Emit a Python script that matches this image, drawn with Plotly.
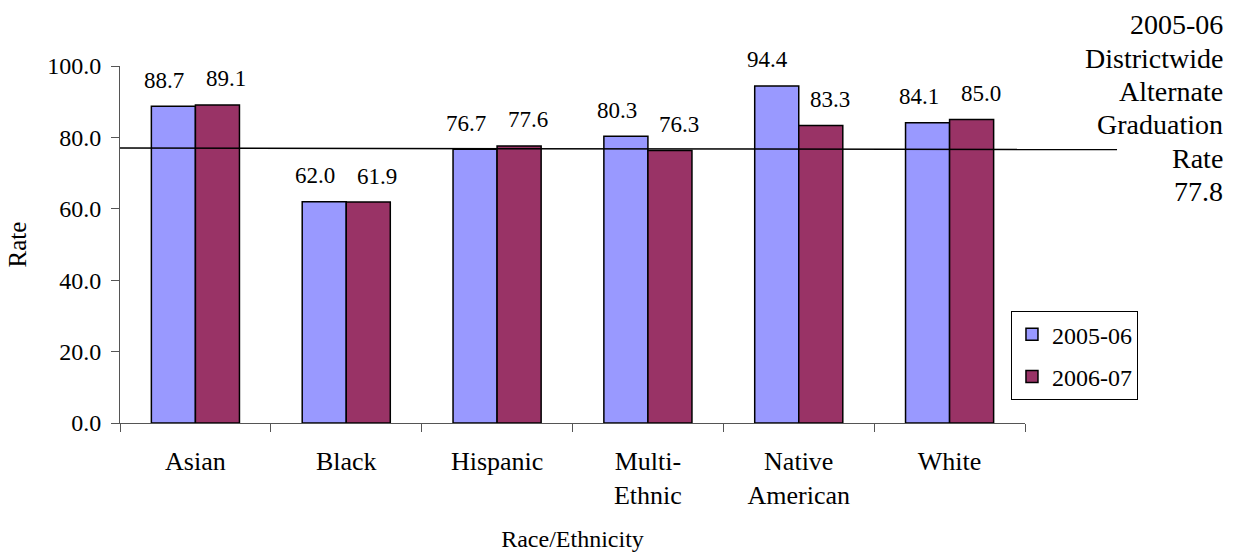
import plotly.graph_objects as go

categories = ["Asian", "Black", "Hispanic", "Multi-Ethnic", "Native American", "White"]
tick_labels = ["Asian", "Black", "Hispanic", "Multi-<br>Ethnic", "Native<br>American", "White"]
rate_2005_06 = [88.7, 62.0, 76.7, 80.3, 94.4, 84.1]
rate_2006_07 = [89.1, 61.9, 77.6, 76.3, 83.3, 85.0]
series_names = ["2005-06", "2006-07"]
district_rate = 77.8
district_line = [77.0, 76.6]  # drawn position of the reference line (start, end)
note_lines = ["2005-06", "Districtwide", "Alternate", "Graduation", "Rate", f"{district_rate}"]
y_ticks = [0, 20, 40, 60, 80, 100]

FONT = "Liberation Serif, Times New Roman, DejaVu Serif, serif"
colors = ["#9999FF", "#993366"]

W, H = 1237, 554
M_L, M_R, M_T, M_B = 120, 212, 66, 131
plot_h = H - M_T - M_B

fig = go.Figure()
for name, vals, col in zip(series_names, [rate_2005_06, rate_2006_07], colors):
    fig.add_trace(go.Bar(
        x=categories, y=vals, name=name, legendgroup=name,
        marker=dict(color=col, line=dict(color="black", width=1.5)),
    ))

annotations = []
for vals, xs in [(rate_2005_06, -31), (rate_2006_07, 31)]:
    for c, v in zip(categories, vals):
        annotations.append(dict(
            x=c, y=v, xref="x", yref="y", text=f"{v:.1f}", showarrow=False,
            xshift=xs, yshift=26, yanchor="middle", xanchor="center",
            font=dict(family=FONT, size=23, color="black"),
        ))

# side note, one annotation per line (line centres in px from the top)
for i, line in enumerate(note_lines):
    py = 25 + 33.3 * i
    annotations.append(dict(
        xref="paper", yref="paper", x=(1225 - M_L) / (W - M_L - M_R),
        y=(H - M_B - py) / plot_h, xanchor="right", yanchor="middle",
        showarrow=False, text=line,
        font=dict(family=FONT, size=28, color="black"),
    ))

fig.update_layout(
    width=W, height=H,
    margin=dict(l=M_L, r=M_R, t=M_T, b=M_B, autoexpand=False),
    paper_bgcolor="white", plot_bgcolor="white",
    barmode="group", bargap=0.416, bargroupgap=0,
    font=dict(family=FONT, size=23, color="black"),
    showlegend=True,
    legend=dict(
        x=0.9845, y=0.313, xanchor="left", yanchor="top",
        bordercolor="black", borderwidth=1, bgcolor="white",
        font=dict(family=FONT, size=24, color="black"),
        itemwidth=30, traceorder="grouped", tracegroupgap=8,
    ),
    annotations=annotations,
    shapes=[dict(
        type="line", xref="paper", yref="y", x0=0, x1=1.1017,
        y0=district_line[0], y1=district_line[1],
        line=dict(color="black", width=1.5),
    )],
    xaxis=dict(
        tickmode="array", tickvals=categories, ticktext=tick_labels,
        tickson="boundaries", ticks="outside", ticklen=8, tickcolor="#555",
        ticklabelstandoff=15, automargin=False,
        showline=True, linecolor="#555", linewidth=1, showgrid=False,
        tickfont=dict(family=FONT, size=26, color="black"),
        title=dict(text="Race/Ethnicity", standoff=21,
                   font=dict(family=FONT, size=24, color="black")),
        range=[-0.5, 5.5],
    ),
    yaxis=dict(
        range=[0, 100], tickvals=y_ticks, tickformat=".1f",
        ticks="outside", ticklen=8, tickcolor="#555",
        ticklabelstandoff=5, automargin=False,
        showline=True, linecolor="#555", linewidth=1, showgrid=False, zeroline=False,
        tickfont=dict(family=FONT, size=24, color="black"),
        title=dict(text="Rate", standoff=13,
                   font=dict(family=FONT, size=25, color="black")),
    ),
)

fig.write_html("out.html")
